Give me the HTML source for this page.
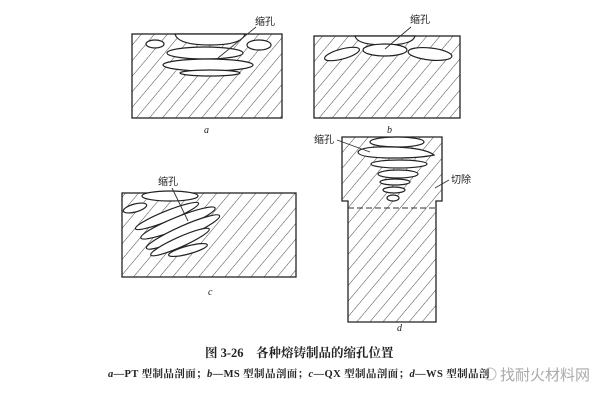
<!DOCTYPE html>
<html><head><meta charset="utf-8"><style>
html,body{margin:0;padding:0;background:#fff;}
svg{display:block}
text{font-family:"Liberation Serif","Noto Serif CJK SC","Noto Sans CJK SC",serif;fill:#222}
.s{font-family:"Liberation Sans","Noto Sans CJK SC",sans-serif;font-size:10px}
</style></head><body>
<svg width="600" height="400" viewBox="0 0 600 400" xmlns="http://www.w3.org/2000/svg">
<defs>
<pattern id="h" patternUnits="userSpaceOnUse" width="10" height="10" patternTransform="rotate(40)">
<line x1="0" y1="0" x2="0" y2="10" stroke="#333" stroke-width="0.9"/>
</pattern>
</defs>
<g stroke="#222" stroke-width="1.3" fill="url(#h)">
<rect x="132" y="34" width="150" height="84"/>
<rect x="314" y="36" width="146" height="82"/>
<rect x="122" y="193" width="174" height="84"/>
<path d="M342 137 H442 V201 H436 V208 V322 H348 V208 V201 H342 Z"/>
</g>
<line x1="348" y1="208" x2="436" y2="208" stroke="#333" stroke-width="1" stroke-dasharray="6,3"/>
<g stroke="#222" stroke-width="1.2" fill="#fff">
<path d="M175 34 Q178 45 210 45 Q242 45 245 34 Z"/>
<ellipse cx="155" cy="44" rx="9" ry="4"/>
<ellipse cx="259" cy="45" rx="12" ry="5"/>
<ellipse cx="205" cy="53" rx="38" ry="6"/>
<ellipse cx="208" cy="65" rx="45" ry="6"/>
<ellipse cx="210" cy="73" rx="30" ry="3"/>
<path d="M355 36 Q357 45 385 45 Q413 45 415 36 Z"/>
<ellipse cx="342" cy="54" rx="18" ry="5" transform="rotate(-15 342 54)"/>
<ellipse cx="385" cy="50" rx="22" ry="6"/>
<ellipse cx="430" cy="54" rx="22" ry="6" transform="rotate(6 430 54)"/>
<ellipse cx="170" cy="196" rx="28" ry="5"/>
<ellipse cx="135" cy="208" rx="12" ry="4" transform="rotate(-15 135 208)"/>
<ellipse cx="167" cy="216" rx="34" ry="5" transform="rotate(-22 167 216)"/>
<ellipse cx="178" cy="223" rx="40" ry="6" transform="rotate(-22 178 223)"/>
<ellipse cx="183" cy="232" rx="40" ry="6" transform="rotate(-24 183 232)"/>
<ellipse cx="180" cy="242" rx="32" ry="5" transform="rotate(-24 180 242)"/>
<ellipse cx="188" cy="250" rx="20" ry="4" transform="rotate(-15 188 250)"/>
<ellipse cx="397" cy="142" rx="27" ry="5"/>
<path d="M358 152 Q360 146 395 147 Q425 148 434 155 Q420 158 395 158 Q358 158 358 152 Z"/>
<ellipse cx="399" cy="164" rx="28" ry="4"/>
<ellipse cx="398" cy="174" rx="20" ry="4"/>
<ellipse cx="395" cy="182" rx="15" ry="3"/>
<ellipse cx="394" cy="190" rx="11" ry="3"/>
<ellipse cx="393" cy="198" rx="6" ry="3"/>
</g>
<g stroke="#333" stroke-width="0.9" fill="none">
<line x1="256" y1="27" x2="218" y2="58"/>
<line x1="411" y1="27" x2="385" y2="49"/>
<line x1="172" y1="188" x2="188" y2="221"/>
<line x1="337" y1="140" x2="370" y2="152"/>
<line x1="449" y1="180" x2="435" y2="188"/>
</g>
<text class="s" x="255" y="25">缩孔</text>
<text class="s" x="410" y="23">缩孔</text>
<text class="s" x="158" y="185">缩孔</text>
<text class="s" x="314" y="143">缩孔</text>
<text class="s" x="451" y="183">切除</text>
<g font-style="italic" font-size="10">
<text x="204" y="133">a</text>
<text x="387" y="133">b</text>
<text x="208" y="295">c</text>
<text x="397" y="331">d</text>
</g>
<text x="205" y="357" font-size="12.5" font-weight="bold">图 3-26　各种熔铸制品的缩孔位置</text>
<text x="108" y="377" font-size="10.5" letter-spacing="0.4" font-weight="bold"><tspan font-style="italic">a</tspan>—PT 型制品剖面；<tspan font-style="italic">b</tspan>—MS 型制品剖面；<tspan font-style="italic">c</tspan>—QX 型制品剖面；<tspan font-style="italic">d</tspan>—WS 型制品剖</text>
<circle cx="490" cy="374" r="6" fill="none" stroke="#bbb"/>
<text x="500" y="380" font-size="15" style="fill:#aaa;font-family:'Liberation Sans','Noto Sans CJK SC',sans-serif">找耐火材料网</text>
</svg>
</body></html>
